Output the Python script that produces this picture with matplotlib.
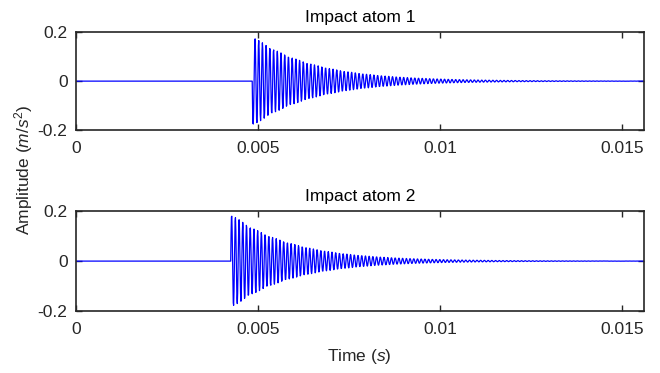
import numpy as np
import matplotlib
matplotlib.use("Agg")
import matplotlib.pyplot as plt

# parametros (um atomo de impacto por painel)
titulos = ["Impact atom 1", "Impact atom 2"]
inicio = [0.00484, 0.00425]      # instante de inicio (s)
amplitude = [0.185, 0.19]        # pico inicial (m/s^2)
frequencia = [9800.0, 9800.0]    # Hz
amortecimento = [600.0, 600.0]   # 1/s
sinal_inicial = [-1.0, 1.0]      # primeiro semiciclo para baixo / para cima
fs = 100000.0
t_fim = 0.0156

x_ticks = [0, 0.005, 0.01, 0.015]
x_labels = ["0", "0.005", "0.01", "0.015"]
y_ticks = [-0.2, 0, 0.2]
y_labels = ["-0.2", "0", "0.2"]

plt.rcParams['font.family'] = ['Liberation Sans', 'DejaVu Sans']
plt.rcParams['mathtext.fontset'] = 'custom'
plt.rcParams['mathtext.it'] = 'Liberation Sans:italic'
plt.rcParams['mathtext.rm'] = 'Liberation Sans'

fs_txt = 12.5
t = np.arange(0, t_fim, 1 / fs)

fig = plt.figure(figsize=(6.6, 3.73), dpi=100)
posicoes = [[0.115, 0.651, 0.861, 0.263], [0.115, 0.166, 0.861, 0.268]]

for i in range(2):
    ax = fig.add_axes(posicoes[i])
    tau = np.clip(t - inicio[i], 0, None)
    y = np.where(t >= inicio[i],
                 sinal_inicial[i] * amplitude[i] * np.exp(-amortecimento[i] * tau)
                 * np.sin(2 * np.pi * frequencia[i] * tau),
                 0.0)
    ax.plot(t, y, color=(0, 0, 1), linewidth=0.9)
    ax.set_xlim(0, t_fim)
    ax.set_ylim(-0.2, 0.2)
    ax.set_xticks(x_ticks)
    ax.set_xticklabels(x_labels)
    ax.set_yticks(y_ticks)
    ax.set_yticklabels(y_labels)
    ax.tick_params(direction='in', top=True, right=True, length=4, width=1,
                   labelsize=fs_txt, colors='#262626')
    ax.tick_params(axis='x', pad=8)
    ax.tick_params(axis='y', pad=6)
    for s in ax.spines.values():
        s.set_linewidth(1.2)
        s.set_color('#262626')
    ax.set_title(titulos[i], fontsize=fs_txt, color='black', pad=7.5)

fig.text(0.035, 0.544, r"Amplitude ($m/s^2$)", rotation=90, ha='center', va='center',
         fontsize=fs_txt, color='#262626')
fig.text(0.545, 0.043, r"Time ($s$)", ha='center', va='center', fontsize=fs_txt, color='#262626')

fig.savefig("out.png", dpi=100)
